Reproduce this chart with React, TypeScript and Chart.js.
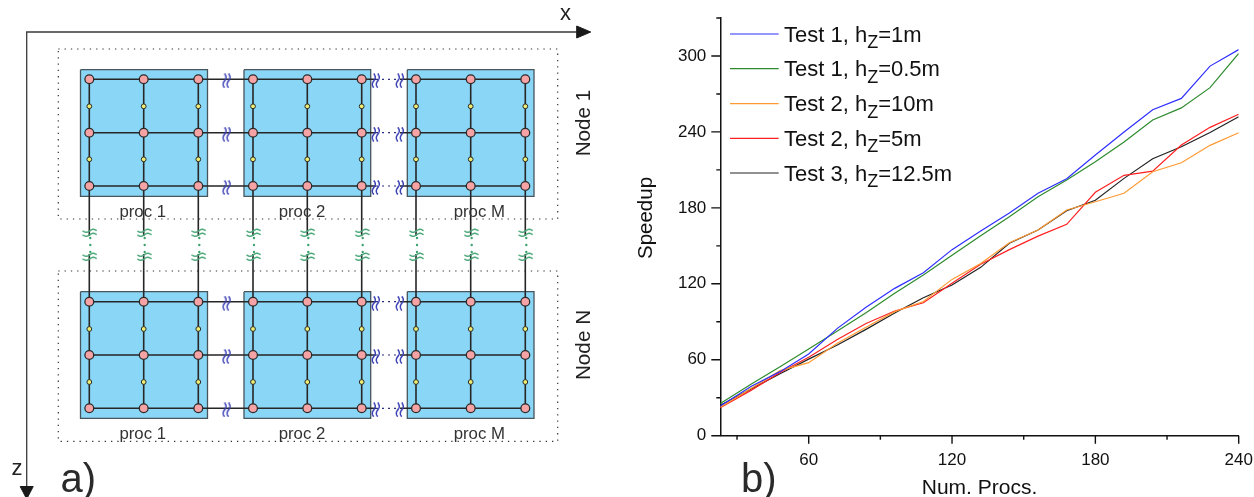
import { useEffect, useRef } from "react";
import { Chart, registerables } from "chart.js";

Chart.register(...registerables);

const FONT = '"Liberation Sans", Arial, sans-serif';

// ---- Speedup chart data ----
const procs = [23, 36, 48, 60, 72, 84, 96, 108, 120, 132, 144, 156, 168, 180, 192, 204, 216, 228, 240];
const test1h1 = [23.5, 39, 50.6, 64.5, 84.8, 101.4, 116.4, 128.8, 147, 161.7, 176, 191.5, 203, 221.7, 240, 257.5, 266.5, 292, 305];
const test1h05 = [25.5, 40.8, 54.5, 68.5, 82.7, 97.2, 112.5, 127, 142.5, 158, 173, 188.8, 202, 216.4, 232, 249.4, 259, 275, 302];
const test2h10 = [22.4, 37.4, 51.4, 57.7, 73, 85.7, 98, 106, 123.5, 136, 152.4, 162.5, 178.3, 184.8, 191.5, 208.5, 215.6, 229.4, 239.3];
const test2h5 = [22, 36, 50, 62, 76, 88.7, 98.5, 105, 120.5, 135.5, 147, 157.7, 167, 192.3, 205.7, 209, 229.6, 243.6, 254];
const test3h125 = [24, 37, 49, 60.5, 71.6, 84, 97, 109, 119, 133, 152, 162.5, 177.7, 186, 203.3, 218.8, 228.3, 239.6, 252];
const seriesNames = ["Test 1, h|=1m", "Test 1, h|=0.5m", "Test 2, h|=10m", "Test 2, h|=5m", "Test 3, h|=12.5m"];
const seriesValues = [test1h1, test1h05, test2h10, test2h5, test3h125];
const seriesColors = ["#2f2fff", "#2e8b2e", "#ff9a33", "#ff2020", "#222222"];
const legendRowsY = [34, 68.7, 103.7, 138.3, 173];

// ---- Schematic data (in schematic units) ----
const procColumns = [
  [89.3, 143.7, 198.3],
  [253, 307.3, 361.7],
  [416, 470.7, 525.3],
];
const boxSpans = [
  [80.5, 207.5],
  [244, 370.7],
  [407.3, 534],
];
const nodeRows = [
  [79.3, 132.7, 186],
  [301.7, 355, 408.3],
];
const nodeMidRows = [
  [106.3, 159.3],
  [329, 382],
];
const nodeBoxSpans = [
  [69.7, 196.3],
  [291.7, 418.3],
];
const nodeFrames = [
  [49, 219],
  [271, 441.3],
];
const frameSpan = [58.3, 557.7];
const procNames = ["proc 1", "proc 2", "proc M"];
const procNameX = [142.7, 302, 479.3];
const procNameY = [216.7, 439];
const nodeNames = ["Node 1", "Node N"];
const nodeNameY = [123, 345];
const blueWaveX = [226.7, 376, 400];
const greenWaveY = [233, 257];
const greenDotY = [238, 245, 252];
const linkEndY = [236, 254];

type P = { x: number | null; y: number | null };
const GAP: P = { x: null, y: null };

function wave(color: string, vertical: boolean) {
  const c = document.createElement("canvas");
  c.width = vertical ? 10 : 15;
  c.height = vertical ? 15 : 10;
  const g = c.getContext("2d")!;
  g.strokeStyle = color;
  g.lineWidth = 1.5;
  for (const off of [2.8, 6.8]) {
    g.beginPath();
    for (let t = 0; t <= 14; t += 0.5) {
      const v = off + 1.5 * Math.sin((t / 14) * Math.PI * 2);
      const u = t + 0.5;
      if (vertical) g.lineTo(v, u);
      else g.lineTo(u, v);
    }
    g.stroke();
  }
  return c;
}

function schematicDatasets() {
  const poly = (pts: P[], extra: object) => ({
    data: pts,
    showLine: true,
    pointRadius: 0,
    borderWidth: 1,
    tension: 0,
    spanGaps: false,
    ...extra,
  });
  const sets: any[] = [];
  const pink: P[] = [];
  const yellow: P[] = [];
  const wires: P[] = [];
  const blue: P[] = [];
  const green: P[] = [];
  const dots: P[] = [];
  const dashed: P[] = [];

  nodeRows.forEach((rows, n) => {
    rows.forEach((y) => {
      const all = procColumns.flat();
      wires.push({ x: all[0], y }, { x: 376, y }, GAP, { x: 400, y }, { x: all[all.length - 1], y }, GAP);
      dashed.push({ x: 376, y }, { x: 400, y }, GAP);
      blueWaveX.forEach((x) => blue.push({ x, y: y + 1.5 }));
      all.forEach((x) => pink.push({ x, y }));
    });
    procColumns.flat().forEach((x) => {
      wires.push({ x, y: rows[0] }, { x, y: rows[2] }, GAP);
      nodeMidRows[n].forEach((y) => yellow.push({ x, y }));
    });
  });
  procColumns.flat().forEach((x) => {
    wires.push({ x, y: nodeRows[0][2] }, { x, y: linkEndY[0] }, GAP);
    wires.push({ x, y: linkEndY[1] }, { x, y: nodeRows[1][0] }, GAP);
    greenWaveY.forEach((y) => green.push({ x: x + 0.5, y }));
    greenDotY.forEach((y) => dots.push({ x: x + 1, y }));
  });

  sets.push({ data: pink, pointRadius: 4.4, pointBackgroundColor: "#f6a3a6", pointBorderColor: "#2b2b2b", pointBorderWidth: 1.3, order: 1 });
  sets.push({ data: yellow, pointRadius: 2.4, pointBackgroundColor: "#eeee72", pointBorderColor: "#2b2b2b", pointBorderWidth: 1, order: 2 });
  sets.push({ data: blue, pointStyle: wave("#3b40b4", true), pointRadius: 7, order: 3 });
  sets.push({ data: green, pointStyle: wave("#4aa878", false), pointRadius: 7, order: 3 });
  sets.push({ data: dots, pointRadius: 1.2, pointBackgroundColor: "#3fa370", pointBorderWidth: 0, order: 3 });
  sets.push(poly(dashed, { borderColor: "#2a2f80", borderWidth: 1.2, borderDash: [2, 4], order: 4 }));
  sets.push(poly(wires, { borderColor: "#262626", borderWidth: 1.6, order: 4 }));
  nodeBoxSpans.forEach(([t, b]) => {
    boxSpans.forEach(([l, r]) => {
      sets.push(
        poly(
          [
            { x: l, y: t },
            { x: r, y: t },
            { x: r, y: b },
            { x: l, y: b },
            { x: l, y: t },
          ],
          { borderColor: "#47555c", borderWidth: 1.3, backgroundColor: "#8ad6f6", fill: "shape", order: 5 }
        )
      );
    });
  });
  nodeFrames.forEach(([t, b]) => {
    const [l, r] = frameSpan;
    sets.push(
      poly(
        [
          { x: l, y: t },
          { x: r, y: t },
          { x: r, y: b },
          { x: l, y: b },
          { x: l, y: t },
        ],
        { borderColor: "#333333", borderWidth: 1.2, borderDash: [1.3, 5], order: 6 }
      )
    );
  });
  // coordinate axes and their arrow heads
  sets.push(poly([{ x: 576.7, y: 32 }, { x: 26.7, y: 32 }, { x: 26.7, y: 488 }], { borderColor: "#3a3a3a", borderWidth: 1.3, order: 7 }));
  sets.push(poly([{ x: 576.7, y: 26 }, { x: 590.7, y: 32 }, { x: 576.7, y: 38 }, { x: 576.7, y: 26 }], { borderColor: "#1a1a1a", backgroundColor: "#1a1a1a", fill: "shape", order: 2 }));
  sets.push(poly([{ x: 20.2, y: 486.5 }, { x: 26.7, y: 499 }, { x: 33.2, y: 486.5 }, { x: 20.2, y: 486.5 }], { borderColor: "#1a1a1a", backgroundColor: "#1a1a1a", fill: "shape", order: 2 }));
  return sets;
}

const schematicText = {
  id: "schematicText",
  afterDraw(chart: any) {
    const { ctx, scales } = chart;
    const X = (v: number) => scales.x.getPixelForValue(v);
    const Y = (v: number) => scales.y.getPixelForValue(v);
    ctx.save();
    ctx.textBaseline = "alphabetic";
    ctx.textAlign = "center";
    ctx.fillStyle = "#333333";
    ctx.font = `16.8px ${FONT}`;
    procNameY.forEach((y) => procNames.forEach((t, i) => ctx.fillText(t, X(procNameX[i]), Y(y))));
    ctx.fillStyle = "#222222";
    ctx.font = `20.7px ${FONT}`;
    nodeNames.forEach((t, i) => {
      ctx.save();
      ctx.translate(X(590), Y(nodeNameY[i]));
      ctx.rotate(-Math.PI / 2);
      ctx.fillText(t, 0, 0);
      ctx.restore();
    });
    ctx.font = `22px ${FONT}`;
    ctx.fillText("x", X(565.5), Y(20));
    ctx.fillText("z", X(17), Y(475));
    ctx.font = `40px ${FONT}`;
    ctx.fillStyle = "#2a2a2a";
    ctx.textAlign = "left";
    ctx.fillText("a)", X(60.5), Y(491.7));
    ctx.restore();
  },
};

const OFFSET = 625;

const speedupDecor = {
  id: "speedupDecor",
  afterDraw(chart: any) {
    const { ctx, scales } = chart;
    const { x, y } = scales;
    ctx.save();
    ctx.strokeStyle = "#111111";
    ctx.lineWidth = 1.4;
    ctx.beginPath();
    x.ticks.forEach((t: any) => {
      const p = x.getPixelForValue(t.value);
      const len = t.value % 60 === 0 ? 8 : 4;
      ctx.moveTo(p, y.bottom);
      ctx.lineTo(p, y.bottom + len);
    });
    y.ticks.forEach((t: any) => {
      const p = y.getPixelForValue(t.value);
      const len = t.value % 60 === 0 ? 9 : 4;
      ctx.moveTo(x.left, p);
      ctx.lineTo(x.left - len, p);
    });
    ctx.stroke();

    // y-axis title, legend, panel letter
    ctx.fillStyle = "#111111";
    ctx.textBaseline = "alphabetic";
    ctx.font = `20.5px ${FONT}`;
    ctx.textAlign = "center";
    ctx.save();
    ctx.translate(652 - OFFSET, 218);
    ctx.rotate(-Math.PI / 2);
    ctx.fillText("Speedup", 0, 0);
    ctx.restore();

    ctx.textAlign = "left";
    seriesNames.forEach((name, i) => {
      const ly = legendRowsY[i];
      ctx.strokeStyle = seriesColors[i];
      ctx.lineWidth = 1.2;
      ctx.beginPath();
      ctx.moveTo(730 - OFFSET, ly);
      ctx.lineTo(778.7 - OFFSET, ly);
      ctx.stroke();
      const [a, b] = name.split("|");
      let cx = 784 - OFFSET;
      ctx.font = `22px ${FONT}`;
      ctx.fillText(a, cx, ly + 7.7);
      cx += ctx.measureText(a).width;
      ctx.font = `18px ${FONT}`;
      ctx.fillText("Z", cx, ly + 14);
      cx += ctx.measureText("Z").width;
      ctx.font = `22px ${FONT}`;
      ctx.fillText(b, cx, ly + 7.7);
    });
    ctx.font = `40px ${FONT}`;
    ctx.fillStyle = "#2a2a2a";
    ctx.fillText("b)", 741 - OFFSET, 491.7);
    ctx.restore();
  },
};

const noScalePadding = (s: any) => {
  s.paddingLeft = 0;
  s.paddingRight = 0;
  s.paddingTop = 0;
  s.paddingBottom = 0;
};

export default function App() {
  const leftRef = useRef<HTMLCanvasElement>(null);
  const rightRef = useRef<HTMLCanvasElement>(null);

  useEffect(() => {
    const left = new Chart(leftRef.current!, {
      type: "scatter",
      data: { datasets: schematicDatasets() },
      options: {
        animation: false,
        responsive: false,
        layout: { padding: 0, autoPadding: false },
        plugins: { legend: { display: false }, tooltip: { enabled: false } },
        scales: {
          x: { type: "linear", min: 0, max: OFFSET, display: false },
          y: { type: "linear", min: 0, max: 497, reverse: true, display: false },
        },
      },
      plugins: [schematicText],
    } as any);

    const right = new Chart(rightRef.current!, {
      type: "scatter",
      data: {
        datasets: seriesValues.map((vals, i) => ({
          label: seriesNames[i].replace("|", "Z"),
          data: vals.map((v, k) => ({ x: procs[k], y: v })),
          showLine: true,
          pointRadius: 0,
          borderColor: seriesColors[i],
          borderWidth: 1.2,
          tension: 0,
        })),
      },
      options: {
        animation: false,
        responsive: false,
        layout: { padding: { left: 0, top: 18, right: 15.3, bottom: 0 }, autoPadding: false },
        plugins: { legend: { display: false }, tooltip: { enabled: false } },
        scales: {
          x: {
            type: "linear",
            min: 23,
            max: 240,
            afterFit: (s: any) => {
              s.height = 61.3;
              noScalePadding(s);
            },
            border: { display: true, color: "#111111", width: 1.5 },
            grid: { display: false, drawTicks: false },
            title: {
              display: true,
              text: "Num. Procs.",
              color: "#111111",
              font: { family: FONT, size: 21 },
              padding: { top: 0, bottom: -4 },
            },
            ticks: {
              stepSize: 30,
              includeBounds: false,
              autoSkip: false,
              maxRotation: 0,
              padding: 14,
              color: "#111111",
              font: { family: FONT, size: 17 },
              callback: (v: any) => (Number(v) % 60 === 0 ? String(v) : ""),
            },
          },
          y: {
            type: "linear",
            min: 0,
            max: 330,
            afterFit: (s: any) => {
              s.width = 95.3;
              noScalePadding(s);
            },
            border: { display: true, color: "#111111", width: 1.5 },
            grid: { display: false, drawTicks: false },
            ticks: {
              stepSize: 30,
              includeBounds: false,
              autoSkip: false,
              padding: 14,
              color: "#111111",
              font: { family: FONT, size: 17 },
              callback: (v: any) => (Number(v) % 60 === 0 ? String(v) : ""),
            },
          },
        },
      },
      plugins: [speedupDecor],
    } as any);

    return () => {
      left.destroy();
      right.destroy();
    };
  }, []);

  return (
    <div style={{ position: "absolute", left: 0, top: 0, width: 1254, height: 497, background: "#fff", overflow: "hidden" }}>
      <canvas ref={leftRef} width={OFFSET} height={497} style={{ position: "absolute", left: 0, top: 0 }} />
      <canvas ref={rightRef} width={1254 - OFFSET} height={497} style={{ position: "absolute", left: OFFSET, top: 0 }} />
    </div>
  );
}
